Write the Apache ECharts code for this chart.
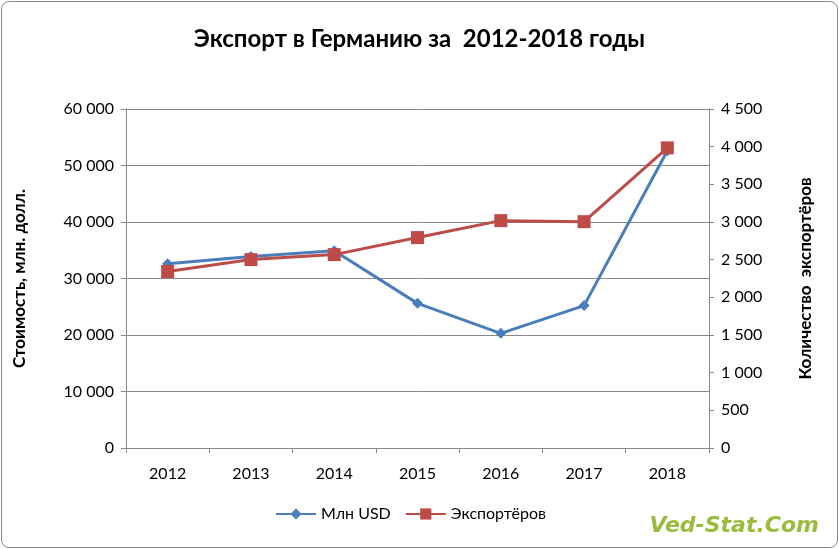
<!DOCTYPE html>
<html><head><meta charset="utf-8">
<script src="https://cdn.jsdelivr.net/npm/echarts@6/dist/echarts.min.js"></script>
<style>html,body{margin:0;padding:0;background:#fff}
#c{width:837px;height:547px;border:1px solid #888;border-radius:8px;box-sizing:border-box;margin:1px}</style>
</head><body><div id="c"></div>
<script>
const years=['2012','2013','2014','2015','2016','2017','2018'];
const usd=[32600,33900,34900,25600,20300,25200,52600];
const exporters=[2343,2501,2567,2793,3018,3004,3984];
const fmt=v=>String(v).replace(/\B(?=(\d{3})+(?!\d))/g,' ');
const ch=echarts.init(document.getElementById('c'));
const F='Lato, "Open Sans", sans-serif';
ch.setOption({
 textStyle:{fontFamily:F},
 title:{text:'Экспорт в Германию за  2012-2018 годы',left:'center',top:20,textStyle:{fontFamily:F,fontSize:24,fontWeight:'bold',color:'#000'}},
 grid:{left:124,right:128,top:107,bottom:99},
 legend:{bottom:20,left:268,itemGap:14,itemWidth:40,textStyle:{fontFamily:F,fontSize:16,color:'#000'},data:['Млн USD','Экспортёров']},
 graphic:[{type:'text',right:18,bottom:10,style:{text:'Ved-Stat.Com',fontFamily:'"DejaVu Sans", sans-serif',fontSize:22,fontWeight:'bold',fontStyle:'italic',fill:'#9bbb3c'}}],
 xAxis:{type:'category',data:years,boundaryGap:true,axisLine:{lineStyle:{color:'#888'}},axisTick:{show:true,lineStyle:{color:'#888'}},axisLabel:{color:'#000',fontSize:16,margin:18}},
 yAxis:[
  {type:'value',min:0,max:60000,interval:10000,name:'Стоимость, млн. долл.',nameLocation:'middle',nameGap:98,nameTextStyle:{fontFamily:F,fontSize:17,fontWeight:'bold',color:'#000'},
   axisLine:{show:true,lineStyle:{color:'#888'}},axisTick:{show:true,lineStyle:{color:'#888'}},splitLine:{lineStyle:{color:'#888'}},axisLabel:{color:'#000',fontSize:16,formatter:fmt,margin:12}},
  {type:'value',min:0,max:4500,interval:500,name:'Количество  экспортёров',nameLocation:'middle',nameGap:88,nameRotate:90,nameTextStyle:{fontFamily:F,fontSize:17,fontWeight:'bold',color:'#000'},
   axisLine:{show:true,lineStyle:{color:'#888'}},axisTick:{show:true,lineStyle:{color:'#888'}},splitLine:{show:false},axisLabel:{color:'#000',fontSize:16,formatter:fmt,margin:12}}
 ],
 series:[
  {name:'Млн USD',type:'line',data:usd,yAxisIndex:0,symbol:'diamond',symbolSize:11,lineStyle:{color:'#4a7ebb',width:3},itemStyle:{color:'#4a7ebb'}},
  {name:'Экспортёров',type:'line',data:exporters,yAxisIndex:1,symbol:'rect',symbolSize:13,lineStyle:{color:'#be4b48',width:3},itemStyle:{color:'#be4b48'}}
 ]
});
</script></body></html>
